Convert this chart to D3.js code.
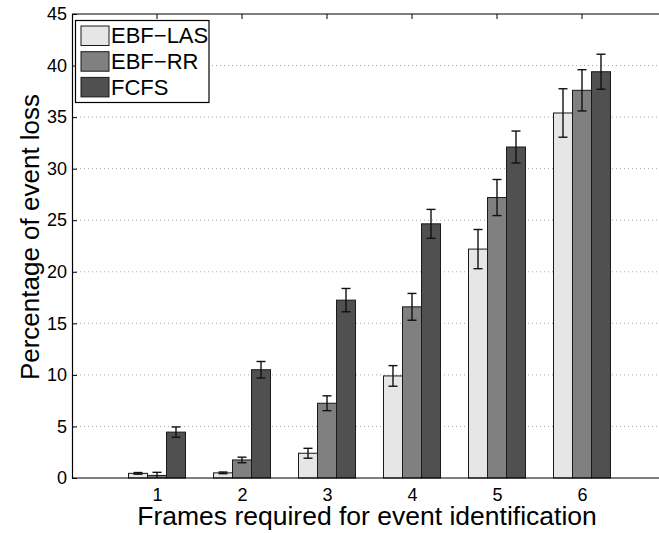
<!DOCTYPE html>
<html>
<head>
<meta charset="utf-8">
<style>
  body { margin: 0; background: #fff; }
  text { font-family: "Liberation Sans", Arial, Helvetica, sans-serif; }
</style>
<script src="https://d3js.org/d3.v7.min.js"></script>
</head>
<body>
<script>
// data
var frames = [1, 2, 3, 4, 5, 6];
var seriesNames = ["EBF\u2212LAS", "EBF\u2212RR", "FCFS"];
var seriesColors = ["#e6e6e6", "#808080", "#505050"];
var lasMean = [0.45, 0.5, 2.4, 9.9, 22.2, 35.4];
var lasErr = [0.08, 0.08, 0.48, 1.0, 1.9, 2.35];
var rrMean = [0.25, 1.75, 7.25, 16.6, 27.2, 37.6];
var rrErr = [0.3, 0.27, 0.72, 1.3, 1.75, 2.0];
var fcfsMean = [4.45, 10.5, 17.25, 24.65, 32.1, 39.4];
var fcfsErr = [0.5, 0.8, 1.13, 1.4, 1.55, 1.7];
var yTicks = [0, 5, 10, 15, 20, 25, 30, 35, 40, 45];

var means = [lasMean, rrMean, fcfsMean];
var errs = [lasErr, rrErr, fcfsErr];

var W = 659, H = 533;
var plotLeft = 72, plotTop = 14, plotBottom = 478;

var svg = d3.select("body").append("svg")
    .attr("width", W)
    .attr("height", H);

var x = d3.scaleLinear().domain([0, 7]).range([plotLeft, 667]);
var y = d3.scaleLinear().domain([0, 45]).range([plotBottom, plotTop]);
var inner = d3.scaleBand().domain(d3.range(3)).range([-28.5, 28.5]);

// dotted grid
svg.append("g")
    .selectAll("line")
    .data(yTicks.filter(function (d) { return d > 0 && d < 45; }))
    .enter().append("line")
    .attr("x1", plotLeft).attr("x2", W)
    .attr("y1", function (d) { return y(d); })
    .attr("y2", function (d) { return y(d); })
    .attr("stroke", "#a8a8a8")
    .attr("stroke-width", 1)
    .attr("stroke-dasharray", "1,3");

// top ticks
svg.append("g")
    .selectAll("line")
    .data(frames)
    .enter().append("line")
    .attr("x1", function (d) { return x(d); })
    .attr("x2", function (d) { return x(d); })
    .attr("y1", plotTop).attr("y2", plotTop + 5)
    .attr("stroke", "#000");

// bars
var rows = [];
frames.forEach(function (f, i) {
    for (var s = 0; s < 3; s++) {
        rows.push({ f: f, s: s, v: means[s][i], e: errs[s][i] });
    }
});

svg.append("g")
    .selectAll("rect")
    .data(rows)
    .enter().append("rect")
    .attr("x", function (d) { return x(d.f) + inner(d.s); })
    .attr("width", inner.bandwidth())
    .attr("y", function (d) { return y(d.v); })
    .attr("height", function (d) { return y(0) - y(d.v); })
    .attr("fill", function (d) { return seriesColors[d.s]; })
    .attr("stroke", "#1a1a1a")
    .attr("stroke-width", 1);

// error bars
var eb = svg.append("g").attr("stroke", "#111").attr("stroke-width", 1.4);
rows.forEach(function (d) {
    var cx = x(d.f) + inner(d.s) + inner.bandwidth() / 2;
    var lo = Math.max(0, d.v - d.e), hi = d.v + d.e;
    eb.append("line").attr("x1", cx).attr("x2", cx).attr("y1", y(lo)).attr("y2", y(hi));
    eb.append("line").attr("x1", cx - 4.5).attr("x2", cx + 4.5).attr("y1", y(hi)).attr("y2", y(hi));
    if (d.v - d.e > 0) {
        eb.append("line").attr("x1", cx - 4.5).attr("x2", cx + 4.5).attr("y1", y(lo)).attr("y2", y(lo));
    }
});

// axes
var yAxis = svg.append("g")
    .attr("transform", "translate(" + plotLeft + ",0)")
    .call(d3.axisLeft(y).tickValues(yTicks).tickFormat(d3.format("d"))
        .tickSizeInner(-5).tickSizeOuter(0).tickPadding(5));
var xAxis = svg.append("g")
    .attr("transform", "translate(0," + plotBottom + ")")
    .call(d3.axisBottom(x).tickValues(frames).tickFormat(d3.format("d"))
        .tickSizeInner(0).tickSizeOuter(0).tickPadding(10));
[yAxis, xAxis].forEach(function (g) {
    g.select(".domain").attr("stroke", "#000").attr("stroke-width", 1.2);
    g.selectAll(".tick line").attr("stroke", "#000");
    g.selectAll("text").attr("font-size", "18px").attr("fill", "#000")
        .style("font-family", "'Liberation Sans', Arial, sans-serif");
});
xAxis.select(".domain").attr("d", "M" + plotLeft + ",0H" + W);

// top border
svg.append("line")
    .attr("x1", plotLeft).attr("x2", W)
    .attr("y1", plotTop).attr("y2", plotTop)
    .attr("stroke", "#000").attr("stroke-width", 1.2);

// axis labels
svg.append("text")
    .attr("x", 367).attr("y", 525)
    .attr("text-anchor", "middle")
    .attr("font-size", "26.5px")
    .text("Frames required for event identification");
svg.append("text")
    .attr("transform", "translate(39,237) rotate(-90)")
    .attr("text-anchor", "middle")
    .attr("font-size", "26px")
    .text("Percentage of event loss");

// legend
var lg = svg.append("g");
lg.append("rect")
    .attr("x", 75.5).attr("y", 20.5)
    .attr("width", 133.5).attr("height", 82)
    .attr("fill", "#fff").attr("stroke", "#000").attr("stroke-width", 1.2);
seriesNames.forEach(function (name, i) {
    lg.append("rect")
        .attr("x", 81).attr("y", 26 + i * 25.7)
        .attr("width", 28).attr("height", 19.5)
        .attr("fill", seriesColors[i])
        .attr("stroke", "#1a1a1a");
    lg.append("text")
        .attr("x", 111).attr("y", 43.3 + i * 25.7)
        .attr("font-size", "22px")
        .text(name);
});
</script>
</body>
</html>
